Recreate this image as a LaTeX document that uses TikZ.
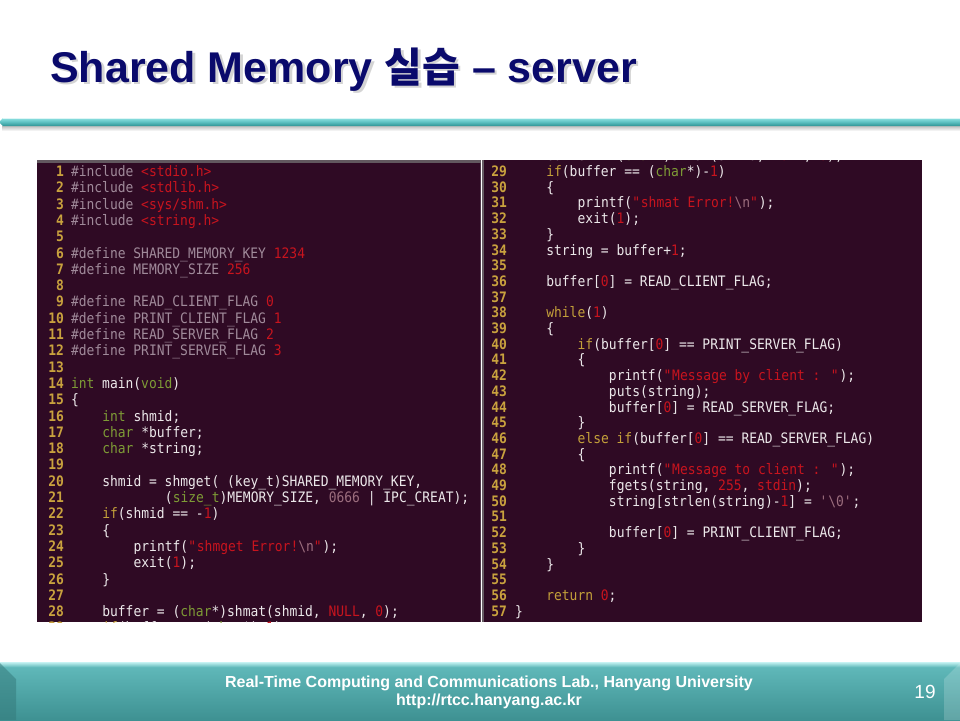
\documentclass[tikz,border=0pt]{standalone}
\usepackage{fontspec}
\setmainfont{Liberation Sans}
\newfontfamily\codefont{DejaVu Sans Mono}[FakeStretch=0.9]
\newfontfamily\krfont{Noto Sans CJK KR}
\definecolor{bgc}{HTML}{2F0A24}
\definecolor{numc}{HTML}{C9A23E}
\definecolor{kwc}{HTML}{C4A03A}
\definecolor{tyc}{HTML}{7E9B36}
\definecolor{stc}{HTML}{C8141E}
\definecolor{ppc}{HTML}{A08A9A}
\definecolor{esc}{HTML}{9C6E7E}
\definecolor{txc}{HTML}{ECE8EA}
\definecolor{navy}{HTML}{0A0A6C}
\definecolor{tealA}{HTML}{8FE2E2}
\definecolor{tealB}{HTML}{5CBFC0}
\definecolor{tealC}{HTML}{2F9394}
\definecolor{footA}{HTML}{62BBBC}
\definecolor{footB}{HTML}{3E9192}
\newcommand\cKw[1]{\textcolor{kwc}{#1}}
\newcommand\cTy[1]{\textcolor{tyc}{#1}}
\newcommand\cSt[1]{\textcolor{stc}{#1}}
\newcommand\cPp[1]{\textcolor{ppc}{#1}}
\newcommand\cEs[1]{\textcolor{esc}{#1}}
\newcommand\bs{\textbackslash}
\newcommand\qd{\textquotedbl}
\newcommand\qs{\textquotesingle}
\tikzset{
  lnum/.style={anchor=base east, inner sep=0pt, outer sep=0pt, font=\codefont\bfseries\fontsize{14.4}{16}\selectfont, text=numc},
  codeline/.style={anchor=base west, inner sep=0pt, outer sep=0pt, font=\codefont\fontsize{14.4}{16}\selectfont, text=txc},
  foottext/.style={inner sep=0pt, text=white, font=\bfseries\fontsize{16}{18}\selectfont, anchor=base},
}
\newcommand\Lnum[1]{\node[lnum] (ln#1) at (64,{176.5+(#1-1)*16.3}) {#1};}
\newcommand\Lcode[3]{\Lnum{#1}\node[codeline] (lc#1) at ({71+#2*7.83},{176.5+(#1-1)*16.3}) {#3};}
\newcommand\Rnum[1]{\node[lnum] (rn#1) at (507,{176.5+(#1-29)*15.7}) {#1};}
\newcommand\Rcode[3]{\Rnum{#1}\node[codeline] (rc#1) at ({515+#2*7.83},{176.5+(#1-29)*15.7}) {#3};}
\begin{document}
\begin{tikzpicture}[x=1pt,y=-1pt]
\useasboundingbox (0,0) rectangle (960,720);
\fill[white] (0,0) rectangle (960,720);

% title (with its drop shadow)
\node[anchor=base west, inner sep=0pt, text=black!30, opacity=0.55, font=\bfseries\fontsize{43}{50}\selectfont] (titleshadow) at (52.5,84.5) {Shared Memory {\krfont\bfseries\fontsize{41}{50}\selectfont 실습} – server};
\node[anchor=base west, inner sep=0pt, text=navy, font=\bfseries\fontsize{43}{50}\selectfont] (title) at (50,82) {Shared Memory {\krfont\bfseries\fontsize{41}{50}\selectfont 실습} – server};

% header bar
\shade[top color=black!25, bottom color=white] (2,126) rectangle (960,131);
\shade[top color=tealA, bottom color=tealC, middle color=tealB] (3,118) -- (960,118) -- (960,126) -- (3,126) -- (0,123) -- (0,121) -- cycle;
\draw[white!70!tealA, line width=0.8pt] (3,118.6) -- (960,118.6);

% left panel
\fill[bgc] (37,160) rectangle (481,622);
\fill[black!55!white!75!bgc] (37,160) rectangle (481,163);
\fill[bgc!80!white!90!black] (479.5,163) rectangle (481,622);
\begin{scope}
\clip (37,163) rectangle (479.5,622);
\Lcode{1}{0}{\cPp{\#include} \cSt{<stdio.h>}}
\Lcode{2}{0}{\cPp{\#include} \cSt{<stdlib.h>}}
\Lcode{3}{0}{\cPp{\#include} \cSt{<sys/shm.h>}}
\Lcode{4}{0}{\cPp{\#include} \cSt{<string.h>}}
\Lnum{5}
\Lcode{6}{0}{\cPp{\#define SHARED\_MEMORY\_KEY} \cSt{1234}}
\Lcode{7}{0}{\cPp{\#define MEMORY\_SIZE} \cSt{256}}
\Lnum{8}
\Lcode{9}{0}{\cPp{\#define READ\_CLIENT\_FLAG} \cSt{0}}
\Lcode{10}{0}{\cPp{\#define PRINT\_CLIENT\_FLAG} \cSt{1}}
\Lcode{11}{0}{\cPp{\#define READ\_SERVER\_FLAG} \cSt{2}}
\Lcode{12}{0}{\cPp{\#define PRINT\_SERVER\_FLAG} \cSt{3}}
\Lnum{13}
\Lcode{14}{0}{\cTy{int} main(\cTy{void})}
\Lcode{15}{0}{\{}
\Lcode{16}{4}{\cTy{int} shmid;}
\Lcode{17}{4}{\cTy{char} *buffer;}
\Lcode{18}{4}{\cTy{char} *string;}
\Lnum{19}
\Lcode{20}{4}{shmid = shmget( (key\_t)SHARED\_MEMORY\_KEY,}
\Lcode{21}{12}{(\cTy{size\_t})MEMORY\_SIZE, \cEs{0666} | IPC\_CREAT);}
\Lcode{22}{4}{\cKw{if}(shmid == -\cSt{1})}
\Lcode{23}{4}{\{}
\Lcode{24}{8}{printf(\cSt{\qd shmget Error!}\cEs{\bs n}\cSt{\qd});}
\Lcode{25}{8}{exit(\cSt{1});}
\Lcode{26}{4}{\}}
\Lnum{27}
\Lcode{28}{4}{buffer = (\cTy{char}*)shmat(shmid, \cSt{NULL}, \cSt{0});}
\Lcode{29}{4}{\cKw{if}(buffer == (\cTy{char}*)-\cSt{1})}
\end{scope}

% right panel
\fill[bgc] (482,160) rectangle (922,622);
\fill[black!50!white!70!bgc] (482,160) rectangle (484,622);
\begin{scope}
\clip (484,160) rectangle (922,622);
\node[codeline] (rc28) at ({515+4*7.83},{176.5-15.7}) {buffer = (\cTy{char}*)shmat(shmid, \cSt{NULL}, \cSt{0});};
\Rcode{29}{4}{\cKw{if}(buffer == (\cTy{char}*)-\cSt{1})}
\Rcode{30}{4}{\{}
\Rcode{31}{8}{printf(\cSt{\qd shmat Error!}\cEs{\bs n}\cSt{\qd});}
\Rcode{32}{8}{exit(\cSt{1});}
\Rcode{33}{4}{\}}
\Rcode{34}{4}{string = buffer+\cSt{1};}
\Rnum{35}
\Rcode{36}{4}{buffer[\cSt{0}] = READ\_CLIENT\_FLAG;}
\Rnum{37}
\Rcode{38}{4}{\cKw{while}(\cSt{1})}
\Rcode{39}{4}{\{}
\Rcode{40}{8}{\cKw{if}(buffer[\cSt{0}] == PRINT\_SERVER\_FLAG)}
\Rcode{41}{8}{\{}
\Rcode{42}{12}{printf(\cSt{\qd Message by client : \qd});}
\Rcode{43}{12}{puts(string);}
\Rcode{44}{12}{buffer[\cSt{0}] = READ\_SERVER\_FLAG;}
\Rcode{45}{8}{\}}
\Rcode{46}{8}{\cKw{else if}(buffer[\cSt{0}] == READ\_SERVER\_FLAG)}
\Rcode{47}{8}{\{}
\Rcode{48}{12}{printf(\cSt{\qd Message to client : \qd});}
\Rcode{49}{12}{fgets(string, \cSt{255}, \cSt{stdin});}
\Rcode{50}{12}{string[strlen(string)-\cSt{1}] = \cEs{\qs\bs 0\qs};}
\Rnum{51}
\Rcode{52}{12}{buffer[\cSt{0}] = PRINT\_CLIENT\_FLAG;}
\Rcode{53}{8}{\}}
\Rcode{54}{4}{\}}
\Rnum{55}
\Rcode{56}{4}{\cKw{return} \cSt{0};}
\Rcode{57}{0}{\}}
\end{scope}

% footer
\shade[top color=footA, bottom color=footB] (0,663) rectangle (960,720);
\shade[top color=white!40!tealA, bottom color=footA] (0,662.5) rectangle (960,667);
\fill[footB!85!black, opacity=0.55] (0,663) -- (16,679) -- (16,720) -- (0,720) -- cycle;
\fill[white, opacity=0.18] (960,663) -- (944,679) -- (944,720) -- (960,720) -- cycle;
\node[foottext] (lab) at (489,687.5) {Real-Time Computing and Communications Lab., Hanyang University};
\node[foottext] (url) at (489,705.5) {http://rtcc.hanyang.ac.kr};
\node[inner sep=0pt, text=white, font=\fontsize{19}{20}\selectfont] (page) at (925,692) {19};
\end{tikzpicture}
\end{document}
